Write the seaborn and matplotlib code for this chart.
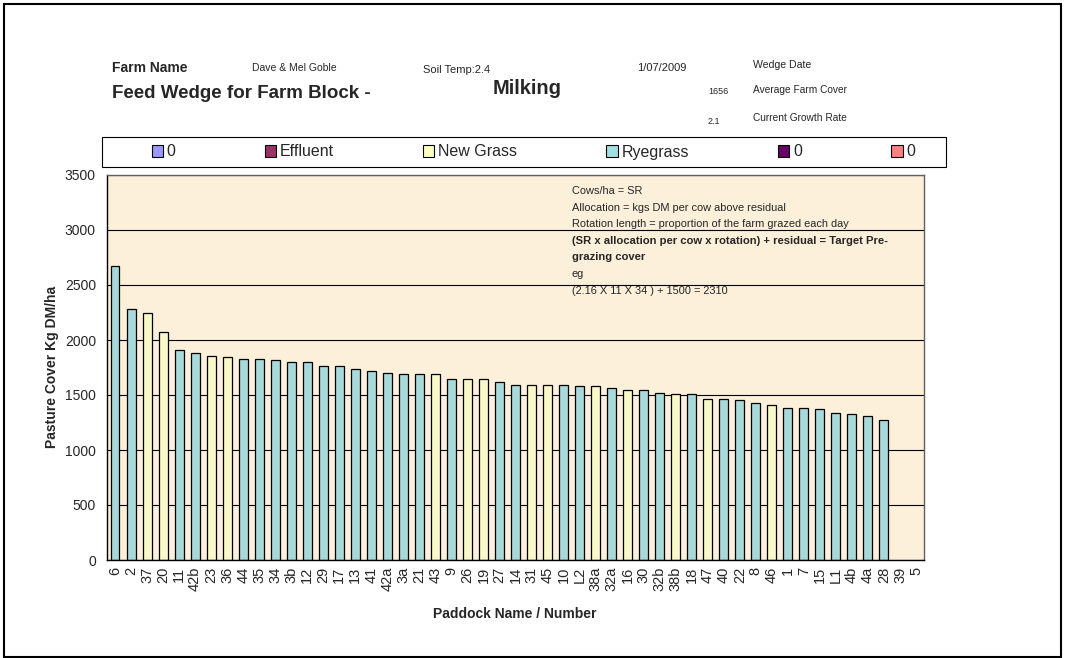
import numpy as np
import pandas as pd
import matplotlib
matplotlib.use("Agg")
import matplotlib.pyplot as plt
from matplotlib.patches import Patch, Rectangle
import seaborn as sns

sns.set_style("white")
plt.rcParams['font.family'] = ['Liberation Sans', 'DejaVu Sans']

# paddocks in wedge order (highest cover first)
paddocks = ["6", "2", "37", "20", "11", "42b", "23", "36", "44", "35", "34", "3b",
            "12", "29", "17", "13", "41", "42a", "3a", "21", "43", "9", "26", "19",
            "27", "14", "31", "45", "10", "L2", "38a", "32a", "16", "30", "32b", "38b",
            "18", "47", "40", "22", "8", "46", "1", "7", "15", "L1", "4b", "4a", "28",
            "39", "5"]
cover = [2670, 2280, 2250, 2070, 1910, 1885, 1858, 1843, 1830, 1825, 1818, 1803,
         1803, 1761, 1761, 1734, 1722, 1704, 1692, 1692, 1692, 1650, 1650, 1650,
         1618, 1591, 1591, 1591, 1591, 1578, 1578, 1566, 1548, 1548, 1521, 1509,
         1509, 1464, 1464, 1451, 1424, 1412, 1382, 1382, 1370, 1340, 1328, 1312, 1270,
         np.nan, np.nan]
R, Y = "Ryegrass", "New Grass"
grass = [R, R, Y, Y, R, R, Y, Y, R, R, R, R,
         R, R, R, R, R, R, R, R, Y, R, Y, Y,
         R, R, Y, Y, R, R, Y, R, Y, R, R, Y,
         R, Y, R, R, R, Y, R, R, R, R, R, R, R,
         R, R]

legend_labels = ["0", "Effluent", "New Grass", "Ryegrass", "0", "0"]
legend_colors = ["#9999FF", "#993366", "#FFFFC0", "#A0E0E2", "#660066", "#FF8080"]
palette = {"New Grass": "#FFFFC0", "Ryegrass": "#A0E0E2"}

formula_lines = ["Cows/ha = SR",
                 "Allocation = kgs DM per cow above residual",
                 "Rotation length = proportion of the farm grazed each day",
                 "(SR x allocation per cow x rotation) + residual = Target Pre-",
                 "grazing cover",
                 "eg",
                 "(2.16 X 11 X 34 ) + 1500 = 2310"]
formula_bold = [False, False, False, True, True, False, False]

df = pd.DataFrame({"paddock": paddocks, "cover": cover, "grass": grass})

W, H = 1065, 658
def fx(p):
    return p / W
def fy(p):
    return 1 - p / H

fig = plt.figure(figsize=(W / 100, H / 100), dpi=100)
ax = fig.add_axes([fx(107), fy(560), fx(924) - fx(107), fy(175) - fy(560)])
ax.set_facecolor("#FCF0DA")

sns.barplot(data=df, x="paddock", y="cover", hue="grass", order=paddocks,
            palette=palette, dodge=False, width=0.56, edgecolor="black",
            linewidth=0.9, legend=False, ax=ax)

ax.set_ylim(0, 3500)
ax.set_xlim(-0.5, len(paddocks) - 0.5)
ax.set_yticks(np.arange(0, 3501, 500))
ax.yaxis.grid(True, color="black", lw=0.8)
ax.set_axisbelow(True)
ax.set_xlabel("")
ax.set_ylabel("")
ax.set_xticks(np.arange(len(paddocks)))
ax.set_xticklabels(paddocks, rotation=90, fontsize=10.5)
ax.set_xticks(np.arange(-0.5, len(paddocks), 1), minor=True)
ax.tick_params(axis="x", which="major", length=0, pad=5)
ax.tick_params(axis="x", which="minor", length=5, direction="out", color="black", width=0.8)
ax.tick_params(axis="y", length=5, direction="out", color="black", width=0.8, pad=3, labelsize=10)
for s in ["left", "bottom"]:
    ax.spines[s].set_color("black")
    ax.spines[s].set_linewidth(1)
for s in ["top", "right"]:
    ax.spines[s].set_color("#606060")
    ax.spines[s].set_linewidth(1)

fig.text(fx(52), fy(367), "Pasture Cover Kg DM/ha", rotation=90, ha="center",
         va="center", fontsize=10, fontweight="bold")
fig.text(fx(515), fy(614), "Paddock Name / Number", ha="center", va="center",
         fontsize=10, fontweight="bold")

# header
fig.text(fx(112), fy(68), "Farm Name", fontsize=10, fontweight="bold", va="center")
fig.text(fx(252), fy(68), "Dave & Mel Goble", fontsize=7.5, va="center")
fig.text(fx(423), fy(70), "Soil Temp:2.4", fontsize=8, va="center")
fig.text(fx(637), fy(68), "1/07/2009", fontsize=8, va="center")
fig.text(fx(753), fy(65), "Wedge Date", fontsize=7.6, va="center")
fig.text(fx(112), fy(93), "Feed Wedge for Farm Block -", fontsize=13.5,
         fontweight="bold", va="center")
fig.text(fx(493), fy(89), "Milking", fontsize=14.5, fontweight="bold", va="center")
fig.text(fx(708), fy(92), "1656", fontsize=6.5, va="center")
fig.text(fx(753), fy(90), "Average Farm Cover", fontsize=7.3, va="center")
fig.text(fx(708), fy(121), "2.1", fontsize=6.5, va="center")
fig.text(fx(753), fy(118), "Current Growth Rate", fontsize=7.3, va="center")

# formula note
for i, (line, b) in enumerate(zip(formula_lines, formula_bold)):
    fig.text(fx(572), fy(191 + i * 16.6), line, va="center",
             fontsize=8.1 if b else 7.9,
             fontweight="bold" if b else "normal")

# legend box
fig.patches.append(Rectangle((fx(102), fy(167)), fx(946) - fx(102), fy(137) - fy(167),
                             transform=fig.transFigure, fill=False,
                             edgecolor="black", lw=0.8))
handles = [Patch(facecolor=c, edgecolor="black", lw=0.8) for c in legend_colors]
fig.legend(handles, legend_labels, ncol=6, mode="expand", frameon=False,
           bbox_to_anchor=(fx(142), fy(167), fx(925) - fx(142), fy(137) - fy(167)),
           loc="center", fontsize=11.5, handlelength=0.7, handleheight=0.7,
           handletextpad=0.25, borderpad=0.1)

# outer frame
fig.patches.append(Rectangle((fx(4), fy(657)), fx(1061) - fx(4), fy(4) - fy(657),
                             transform=fig.transFigure, fill=False,
                             edgecolor="black", lw=1.5))

fig.savefig("out.png", dpi=100)
